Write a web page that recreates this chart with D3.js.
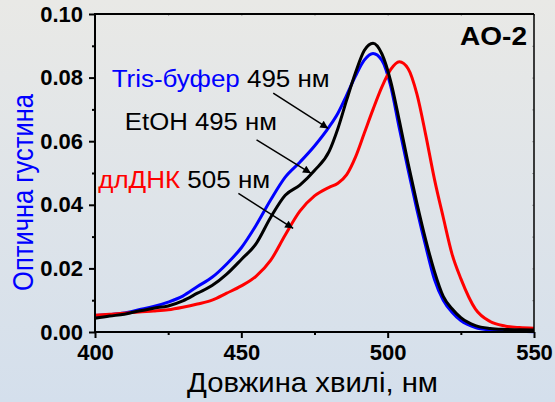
<!doctype html>
<html lang="uk">
<head>
<meta charset="UTF-8">
<title>AO-2</title>
<script src="https://d3js.org/d3.v7.min.js"></script>
<style>
  body { margin: 0; }
  .tick text { font-family: 'Liberation Sans', Arial, sans-serif; font-weight: bold; font-size: 22px; fill: #000; }
  .curve { fill: none; stroke-width: 3px; stroke-linejoin: round; }
  .note { font-family: 'Liberation Sans', Arial, sans-serif; font-size: 23px; }
</style>
</head>
<body>
<script>
// wavelengths, nm
const wl = [400,405,410,415,420,425,430,435,440,445,450,455,460,465,470,475,480,483,486,489,492,495,498,501,504,507,510,513,516,519,522,525,530,535,540,545,550];

// optical density
const tris = [0.0052,0.0055,0.0060,0.0070,0.0080,0.0094,0.0113,0.0143,0.0172,0.0214,0.0265,0.0335,0.0415,0.0487,0.0534,0.0585,0.0645,0.0688,0.0745,0.0805,0.0855,0.0876,0.0855,0.0775,0.0640,0.0510,0.0385,0.0270,0.0165,0.0100,0.0062,0.0036,0.0014,0.0006,0.0003,0.0002,0.0001];
const etoh = [0.0043,0.0050,0.0056,0.0066,0.0075,0.0082,0.0098,0.0122,0.0146,0.0182,0.0228,0.0277,0.0360,0.0430,0.0462,0.0508,0.0568,0.0640,0.0730,0.0815,0.0885,0.0908,0.0875,0.0790,0.0664,0.0530,0.0405,0.0290,0.0190,0.0112,0.0073,0.0045,0.0020,0.0011,0.0008,0.0007,0.0006];
const dna = [0.0053,0.0056,0.0059,0.0063,0.0066,0.0070,0.0078,0.0088,0.0100,0.0122,0.0145,0.0175,0.0225,0.0305,0.0380,0.0428,0.0455,0.0468,0.0495,0.0550,0.0625,0.0700,0.0770,0.0825,0.0850,0.0828,0.0748,0.0620,0.0480,0.0360,0.0245,0.0168,0.0072,0.0033,0.0019,0.0014,0.0012];

const xMajor = [400,450,500,550];
const xMinor = [425,475,525];
const yMajor = [0,0.02,0.04,0.06,0.08,0.10];
const yMinor = [0.01,0.03,0.05,0.07,0.09];

// labels: name, rest, colour, text anchor (nm, OD), arrow from/to (nm, OD)
const notes = [
  {name: 'Tris-буфер', rest: ' 495 нм', color: '#0000ff', at: [405.7, 0.0771], len: 218, from: [460.9, 0.0751], to: [479.7, 0.0640]},
  {name: 'EtOH', rest: ' 495 нм', color: '#000000', at: [410.2, 0.0635], len: 152, from: [455.2, 0.0604], to: [473.8, 0.0499]},
  {name: 'длДНК', rest: ' 505 нм', color: '#ff0000', at: [401.1, 0.0452], len: 172, from: [449.0, 0.0436], to: [467.7, 0.0326]}
];

const width = 555, height = 402;
const svg = d3.select('body').append('svg')
    .attr('width', width)
    .attr('height', height);

const defs = svg.append('defs');
const grad = defs.append('linearGradient')
    .attr('id', 'bg').attr('x1', 0).attr('y1', 0).attr('x2', 0).attr('y2', 1);
grad.append('stop').attr('offset', '0%').attr('stop-color', '#e9e9e6');
grad.append('stop').attr('offset', '100%').attr('stop-color', '#d4dfec');

svg.append('rect').attr('width', width).attr('height', height).attr('fill', 'url(#bg)');

defs.append('marker')
    .attr('id', 'head')
    .attr('viewBox', '0 0 10 10')
    .attr('refX', 10).attr('refY', 5)
    .attr('markerWidth', 12).attr('markerHeight', 8)
    .attr('markerUnits', 'userSpaceOnUse')
    .attr('orient', 'auto')
  .append('path').attr('d', 'M0,0L10,5L0,10z').attr('fill', '#000');

const x = d3.scaleLinear().domain([400, 550]).range([95, 534]);
const y = d3.scaleLinear().domain([0, 0.10]).range([332, 14]);

// axes
function plain(g) { g.select('.domain').remove(); g.selectAll('line').attr('stroke', '#000').attr('stroke-width', 2); }

svg.append('g').attr('transform', 'translate(0,332)')
    .call(d3.axisBottom(x).tickValues(xMajor).tickSize(6).tickPadding(6).tickFormat(d3.format('d')))
    .call(plain);
svg.append('g').attr('transform', 'translate(0,332)')
    .call(d3.axisBottom(x).tickValues(xMinor).tickSize(3).tickFormat(''))
    .call(plain);
svg.append('g').attr('transform', 'translate(95,0)')
    .call(d3.axisLeft(y).tickValues(yMajor).tickSize(6).tickPadding(6).tickFormat(d3.format('.2f')))
    .call(plain);
svg.append('g').attr('transform', 'translate(95,0)')
    .call(d3.axisLeft(y).tickValues(yMinor).tickSize(3).tickFormat(''))
    .call(plain);

// faint inner ticks on top and right
svg.append('g').attr('transform', 'translate(0,14)')
    .call(d3.axisBottom(x).tickValues(xMajor.concat(xMinor)).tickSize(2).tickFormat(''))
    .call(g => { g.select('.domain').remove(); g.selectAll('line').attr('stroke', '#666').attr('stroke-opacity', 0.5); });
svg.append('g').attr('transform', 'translate(534,0)')
    .call(d3.axisLeft(y).tickValues(yMajor.concat(yMinor)).tickSize(2).tickFormat(''))
    .call(g => { g.select('.domain').remove(); g.selectAll('line').attr('stroke', '#666').attr('stroke-opacity', 0.5); });

// curves
const line = d3.line()
    .x((d, i) => x(wl[i]))
    .y(d => y(d))
    .curve(d3.curveMonotoneX);

[[tris, '#0000ff'], [dna, '#ff0000'], [etoh, '#000000']].forEach(([vals, c]) => {
    svg.append('path').attr('class', 'curve').attr('d', line(vals)).attr('stroke', c);
});

// frame
svg.append('path')
    .attr('d', `M${x(400)},${y(0)}V${y(0.10)}H${x(550)}`)
    .attr('fill', 'none').attr('stroke', '#000').attr('stroke-width', 2);
svg.append('line')
    .attr('x1', x(550)).attr('x2', x(550)).attr('y1', y(0.10)).attr('y2', y(0) + 1)
    .attr('stroke', '#000').attr('stroke-width', 1.5);
svg.append('line')
    .attr('x1', x(400) - 1).attr('x2', x(550)).attr('y1', y(0)).attr('y2', y(0))
    .attr('stroke', '#000').attr('stroke-width', 2);

// annotations
notes.forEach(n => {
    const t = svg.append('text').attr('class', 'note')
        .attr('x', x(n.at[0])).attr('y', y(n.at[1]))
        .attr('textLength', n.len).attr('lengthAdjust', 'spacingAndGlyphs');
    t.append('tspan').attr('fill', n.color).text(n.name);
    t.append('tspan').attr('fill', '#000').text(n.rest);
    svg.append('line')
        .attr('x1', x(n.from[0])).attr('y1', y(n.from[1]))
        .attr('x2', x(n.to[0])).attr('y2', y(n.to[1]))
        .attr('stroke', '#000').attr('stroke-width', 1.5)
        .attr('marker-end', 'url(#head)');
});

svg.append('text')
    .attr('x', 460).attr('y', 45)
    .attr('textLength', 67).attr('lengthAdjust', 'spacingAndGlyphs')
    .style('font', 'bold 26px "Liberation Sans", Arial, sans-serif')
    .text('AO-2');

svg.append('text')
    .attr('x', 187).attr('y', 392)
    .attr('textLength', 251).attr('lengthAdjust', 'spacingAndGlyphs')
    .style('font', '28px "Liberation Sans", Arial, sans-serif')
    .text('Довжина хвилі, нм');

svg.append('text')
    .attr('transform', `translate(33,${192.5}) scale(1.15,1) rotate(-90)`)
    .attr('text-anchor', 'middle')
    .attr('fill', '#0000ff')
    .style('font', '25.5px "Liberation Sans", Arial, sans-serif')
    .text('Оптична густина');
</script>
</body>
</html>
